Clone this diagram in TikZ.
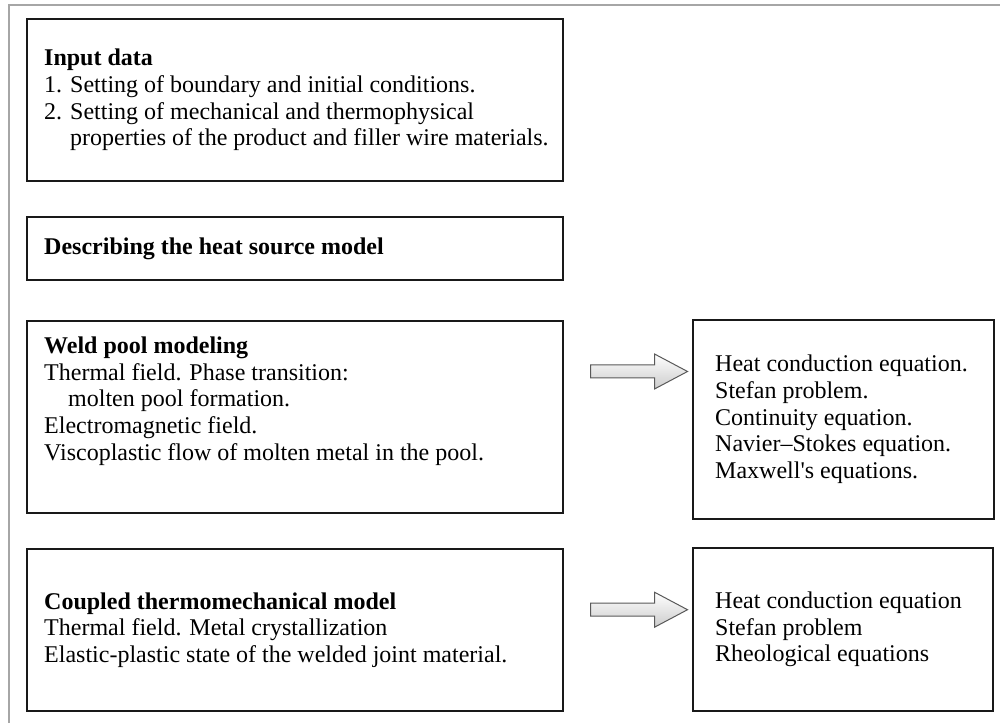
\documentclass[tikz,border=0pt]{standalone}
\usepackage{fontspec}
\setmainfont{Liberation Serif}
\usetikzlibrary{calc}
\begin{document}
\begin{tikzpicture}[x=1pt,y=-1pt,
  box/.style={draw=black!90, line width=2pt, inner sep=0pt},
  txt/.style={font=\fontsize{24}{26.7}\selectfont, align=left, inner sep=0pt, anchor=west},
  blockarrow/.style={draw=gray!70!black, line width=1pt, top color=white, bottom color=gray!40, line join=miter},
  frame/.style={draw=gray!70, line width=1.5pt}]
\useasboundingbox (0,0) rectangle (1000,723);
% outer frame (top and left edges only)
\draw[frame] (9,723) -- (9,5) -- (1000,5);

% boxes
\node[box, minimum width=536pt, minimum height=162pt] (A) at (295,100) {};
\node[box, minimum width=536pt, minimum height=63pt]  (B) at (295,248.5) {};
\node[box, minimum width=536pt, minimum height=192pt] (C) at (295,417) {};
\node[box, minimum width=301pt, minimum height=199pt] (D) at (843.5,419.5) {};
\node[box, minimum width=536pt, minimum height=162pt] (E) at (295,630) {};
\node[box, minimum width=300pt, minimum height=163pt] (F) at (843,629.5) {};

% box texts
\node[txt] (At) at ([xshift=18pt]A.west) {\textbf{Input data}\\
1. Setting of boundary and initial conditions.\\
2. Setting of mechanical and thermophysical\\
\hphantom{2. }properties of the product and filler wire materials.};
\node[txt] (Bt) at ([xshift=18pt]B.west) {\textbf{Describing the heat source model}};
\node[txt] (Ct) at ([xshift=18pt,yshift=16pt]C.west) {\textbf{Weld pool modeling}\\
Thermal field. Phase transition:\\
\hspace*{1em}molten pool formation.\\
Electromagnetic field.\\
Viscoplastic flow of molten metal in the pool.};
\node[txt] (Dt) at ([xshift=23pt]D.west) {Heat conduction equation.\\
Stefan problem.\\
Continuity equation.\\
Navier--Stokes equation.\\
Maxwell\textquotesingle s equations.};
\node[txt] (Et) at ([xshift=18pt]E.west) {\textbf{Coupled thermomechanical model}\\
Thermal field. Metal crystallization\\
Elastic-plastic state of the welded joint material.};
\node[txt] (Ft) at ([xshift=23pt]F.west) {Heat conduction equation\\
Stefan problem\\
Rheological equations};

% block arrows between the model boxes and their equation boxes
\coordinate (m1) at ($(C.east)!0.59!(D.west) + (0,-47)$);
\coordinate (m2) at ($(E.east)!0.59!(F.west) + (0,-20)$);
\foreach \m in {m1,m2}
  \draw[blockarrow, shift={(\m)}] (-49,-6.5) -- (15,-6.5) -- (15,-17.5) -- (48,0) -- (15,17.5) -- (15,6.5) -- (-49,6.5) -- cycle;
\end{tikzpicture}
\end{document}
